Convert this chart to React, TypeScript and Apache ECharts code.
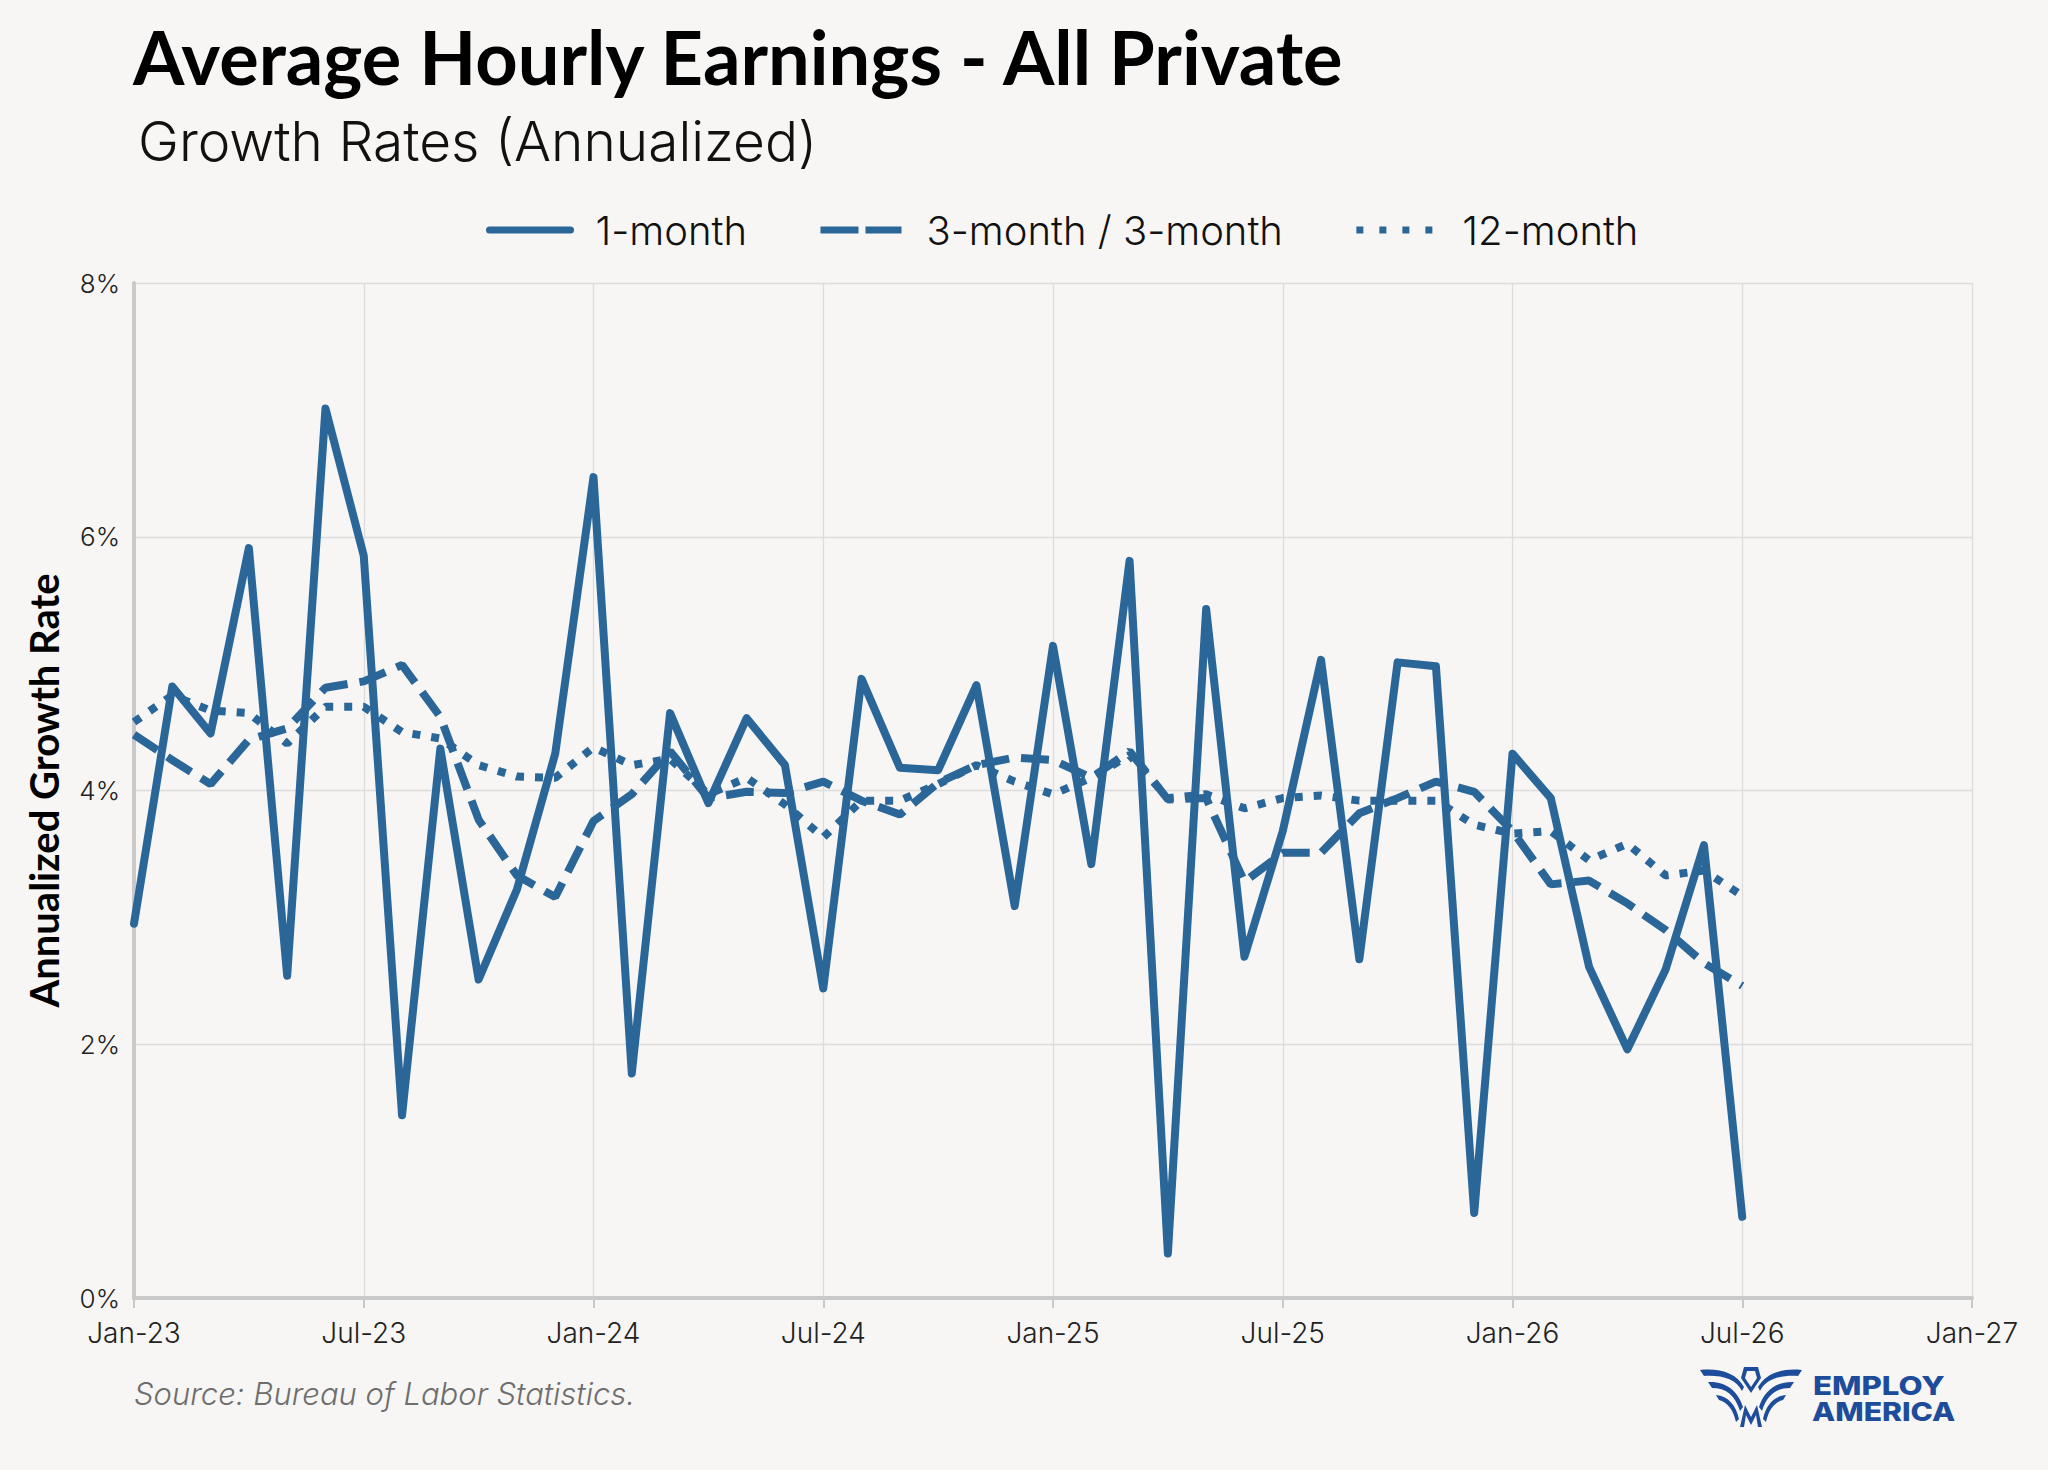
import { useEffect, useRef } from 'react';
import * as echarts from 'echarts';

// months since Jan-23 (0 = Jan-23 ... 42 = Jul-26)
const tickLabels = ['Jan-23', 'Jul-23', 'Jan-24', 'Jul-24', 'Jan-25', 'Jul-25', 'Jan-26', 'Jul-26', 'Jan-27'];

const oneMonth = [
  2.95, 4.82, 4.45, 5.91, 2.54, 7.01, 5.85, 1.44, 4.33, 2.51, 3.22, 4.29,
  6.47, 1.77, 4.61, 3.9, 4.57, 4.2, 2.44, 4.88, 4.18, 4.16, 4.83, 3.09,
  5.14, 3.42, 5.81, 0.35, 5.43, 2.69, 3.68, 5.03, 2.67, 5.01, 4.98, 0.67,
  4.29, 3.94, 2.61, 1.96, 2.59, 3.57, 0.64,
];

const threeMonth = [
  4.44, 4.24, 4.05, 4.4, 4.49, 4.81, 4.86, 4.99, 4.58, 3.77, 3.33, 3.16,
  3.76, 3.97, 4.31, 3.94, 3.99, 3.98, 4.07, 3.92, 3.81, 4.06, 4.2, 4.26,
  4.24, 4.1, 4.31, 3.93, 3.94, 3.28, 3.51, 3.51, 3.82, 3.94, 4.07, 3.99,
  3.68, 3.26, 3.29, 3.11, 2.9, 2.64, 2.46,
];

const twelveMonth = [
  4.54, 4.75, 4.63, 4.61, 4.37, 4.66, 4.66, 4.46, 4.41, 4.2, 4.11, 4.1,
  4.34, 4.2, 4.25, 3.97, 4.1, 3.89, 3.63, 3.92, 3.92, 4.05, 4.2, 4.07,
  3.97, 4.1, 4.28, 3.94, 3.97, 3.86, 3.94, 3.96, 3.92, 3.92, 3.92, 3.73,
  3.66, 3.68, 3.45, 3.58, 3.33, 3.37, 3.17,
];

const BLUE = '#2B6699';
const LOGO_BLUE = '#1D4C9B';
const LIGHT = 'Inter';

// simplified eagle mark, drawn in a 102x60 box
const eaglePath =
  'M0 3 C20 1 36 6 44 20 L42 24 C36 12 22 8 4 9 Z ' +
  'M102 3 C82 1 66 6 58 20 L60 24 C66 12 80 8 98 9 Z ' +
  'M8 15 C26 14 38 24 43 40 L40 44 C35 28 26 21 12 21 Z ' +
  'M94 15 C76 14 64 24 59 40 L62 44 C67 28 76 21 90 21 Z ' +
  'M16 28 C28 29 36 38 39 52 L36 55 C33 42 27 35 19 33 Z ' +
  'M86 28 C74 29 66 38 63 52 L66 55 C69 42 75 35 83 33 Z ' +
  'M40 60 L45 38 L51 50 L57 38 L62 60 L58 60 L56 48 L51 58 L46 48 L44 60 Z ' +
  'M44 0 L58 0 L61 11 L51 26 L41 11 Z M47 4 L45 11 L51 20 L57 11 L55 4 Z';

echarts.graphic.registerShape('eagle', echarts.graphic.extendPath(eaglePath, {}));

const toPoints = (arr: number[]) => arr.map((v, i) => [i, v]);

export default function App() {
  const chartRef = useRef<HTMLDivElement>(null);

  useEffect(() => {
    if (!chartRef.current) return;
    const chart = echarts.init(chartRef.current, undefined, { renderer: 'svg' });

    const option: any = {
      animation: false,
      backgroundColor: '#F7F6F4',
      title: [
        {
          text: 'Average Hourly Earnings - All Private',
          left: 128,
          top: 14,
          textStyle: { fontFamily: 'Lato', fontWeight: 'bold', fontSize: 74, color: '#000' },
        },
        {
          text: 'Growth Rates (Annualized)',
          left: 133,
          top: 108,
          textStyle: { fontFamily: LIGHT, fontWeight: 300, fontSize: 55, color: '#111' },
        },
      ],
      legend: {
        top: 205,
        left: 481,
        itemWidth: 81,
        itemHeight: 20,
        itemGap: 70,
        itemStyle: { opacity: 0 },
        lineStyle: { width: 7 },
        textStyle: {
          fontFamily: LIGHT,
          fontWeight: 300,
          fontSize: 40,
          color: '#111',
          padding: [0, 0, 0, 20],
        },
        data: [
          { name: '1-month' },
          { name: '3-month / 3-month', lineStyle: { type: [38, 7], width: 7 } },
          { name: '12-month', lineStyle: { type: [7, 16], width: 7 } },
        ],
      },
      grid: { left: 134, right: 76, top: 283, bottom: 172, containLabel: false },
      xAxis: {
        type: 'value',
        min: 0,
        max: 48,
        interval: 6,
        axisLine: { show: true, lineStyle: { color: '#C9C9C9', width: 4 } },
        axisTick: { show: true, length: 10, lineStyle: { color: '#C9C9C9', width: 2 } },
        splitLine: { show: true, lineStyle: { color: '#DCDCDC', width: 1.3 } },
        axisLabel: {
          margin: 21,
          fontFamily: LIGHT,
          fontWeight: 300,
          fontSize: 28,
          color: '#222',
          formatter: (v: number) => tickLabels[Math.round(v / 6)] ?? '',
        },
      },
      yAxis: {
        type: 'value',
        min: 0,
        max: 8,
        interval: 2,
        name: 'Annualized Growth Rate',
        nameLocation: 'middle',
        nameGap: 70,
        nameTextStyle: { fontFamily: 'Lato', fontWeight: 'bold', fontSize: 40, color: '#000' },
        axisLine: { show: true, lineStyle: { color: '#C9C9C9', width: 4 } },
        axisTick: { show: false },
        splitLine: { show: true, lineStyle: { color: '#DCDCDC', width: 1.3 } },
        axisLabel: {
          margin: 14,
          fontFamily: LIGHT,
          fontWeight: 300,
          fontSize: 26,
          color: '#222',
          formatter: (v: number) => `${v}%`,
        },
      },
      series: [
        {
          name: '1-month',
          type: 'line',
          data: toPoints(oneMonth),
          showSymbol: false,
          symbol: 'none',
          lineStyle: { color: BLUE, width: 8, join: 'round', cap: 'round' },
          itemStyle: { color: BLUE },
        },
        {
          name: '3-month / 3-month',
          type: 'line',
          data: toPoints(threeMonth),
          showSymbol: false,
          symbol: 'none',
          lineStyle: { color: BLUE, width: 8, type: [28, 12], cap: 'butt' },
          itemStyle: { color: BLUE },
        },
        {
          name: '12-month',
          type: 'line',
          data: toPoints(twelveMonth),
          showSymbol: false,
          symbol: 'none',
          lineStyle: { color: BLUE, width: 8, type: [8, 11], cap: 'butt' },
          itemStyle: { color: BLUE },
        },
      ],
      graphic: [
        {
          type: 'text',
          left: 134,
          top: 1378,
          style: {
            text: 'Source: Bureau of Labor Statistics.',
            fontFamily: LIGHT,
            fontWeight: 300,
            fontStyle: 'italic',
            fontSize: 31,
            fill: '#6E6E6E',
          },
        },
        {
          type: 'eagle',
          x: 1700,
          y: 1367,
          scaleX: 1,
          scaleY: 1,
          style: { fill: LOGO_BLUE },
        },
        {
          type: 'text',
          x: 1813,
          y: 1385,
          scaleX: 1.2,
          style: {
            text: 'EMPLOY',
            fontFamily: 'Inter',
            fontWeight: 800,
            fontSize: 26,
            fill: LOGO_BLUE,
            verticalAlign: 'middle',
          },
        },
        {
          type: 'text',
          x: 1812,
          y: 1412,
          scaleX: 1.16,
          style: {
            text: 'AMERICA',
            fontFamily: 'Inter',
            fontWeight: 800,
            fontSize: 26,
            fill: LOGO_BLUE,
            verticalAlign: 'middle',
          },
        },
      ],
    };

    chart.setOption(option);
    return () => chart.dispose();
  }, []);

  return (
    <div
      ref={chartRef}
      style={{ position: 'fixed', left: 0, top: 0, width: 2048, height: 1470 }}
    />
  );
}
